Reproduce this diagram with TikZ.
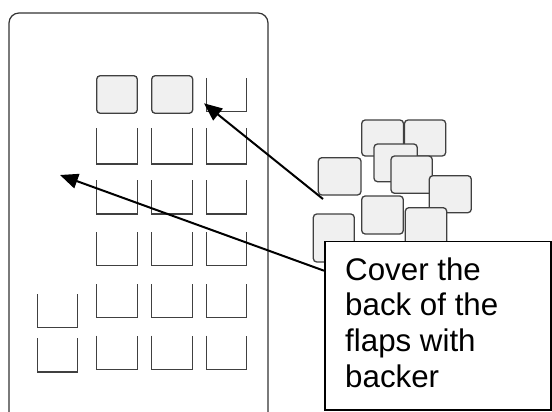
\documentclass[tikz,border=0pt]{standalone}
\usepackage{fontspec}
\setmainfont{Liberation Sans}
\usetikzlibrary{arrows.meta}
\tikzset{
  panel/.style={draw=black!80, line width=1.2pt, rounded corners=10pt},
  cup/.style={draw=black!75, line width=1.3pt},
  tile/.style={draw=black!75, fill=black!6, line width=1.3pt, rounded corners=3.5pt},
  pointer/.style={draw=black, line width=2pt, -{Triangle[length=18pt,width=15pt]}},
  callout/.style={draw=black, line width=1.6pt, fill=white},
}
\begin{document}
\begin{tikzpicture}[x=1pt,y=-1pt]
\useasboundingbox (0,0) rectangle (552,412);
% outer panel (cut off at bottom)
\draw[panel] (9,413) -- (9,13) -- (268,13) -- (268,413);
% top row filled tiles
\draw[tile] (96.7,75.7) rectangle (137.3,113.3);
\draw[tile] (151.7,75.7) rectangle (192.7,113.3);
% cups
\foreach \xa/\xb in {96.7/137.3,151.7/192.7,206.3/246.7}{
  \foreach \ya/\yb in {128.3/164,180/214,232.3/265.7,284/317.7,335.7/369.3}{
    \draw[cup] (\xa,\ya) -- (\xa,\yb) -- (\xb,\yb) -- (\xb,\ya);
  }
}
\draw[cup] (206.3,78) -- (206.3,111.7) -- (246.7,111.7) -- (246.7,78);
\draw[cup] (37.3,294) -- (37.3,327.7) -- (77.3,327.7) -- (77.3,294);
\draw[cup] (37.3,338.3) -- (37.3,372) -- (77.3,372) -- (77.3,338.3);
% loose tiles
\draw[tile] (361.7,120) rectangle (403.5,156);
\draw[tile] (404.5,120) rectangle (445.7,156);
\draw[tile] (318.3,157.7) rectangle (361,195);
\draw[tile] (361.7,196) rectangle (403.3,234);
\draw[tile] (313.3,214) rectangle (354.3,262);
\draw[tile] (374,144) rectangle (417.3,181.7);
\draw[tile] (391,156) rectangle (432.3,193.3);
\draw[tile] (429.3,175.7) rectangle (471.3,212.7);
\draw[tile] (405.3,207.7) rectangle (446.7,262);
% callout
\node[callout, minimum width=226.3pt, minimum height=168.3pt, anchor=north west, inner sep=0pt] (box) at (324,240.7) {};
\node[anchor=north west, inner sep=0pt, align=left, font=\fontsize{31.3}{35.6}\selectfont] (txt) at (345,257.5) {Cover the\\back of the\\flaps with\\backer};
% pointers
\coordinate (tail1) at (323,199);
\coordinate (tip1) at (204,103.3);
\coordinate (tail2) at (324,270.7);
\coordinate (tip2) at (60,175);
\draw[pointer] (tail1) -- (tip1);
\draw[pointer] (tail2) -- (tip2);
\end{tikzpicture}
\end{document}
